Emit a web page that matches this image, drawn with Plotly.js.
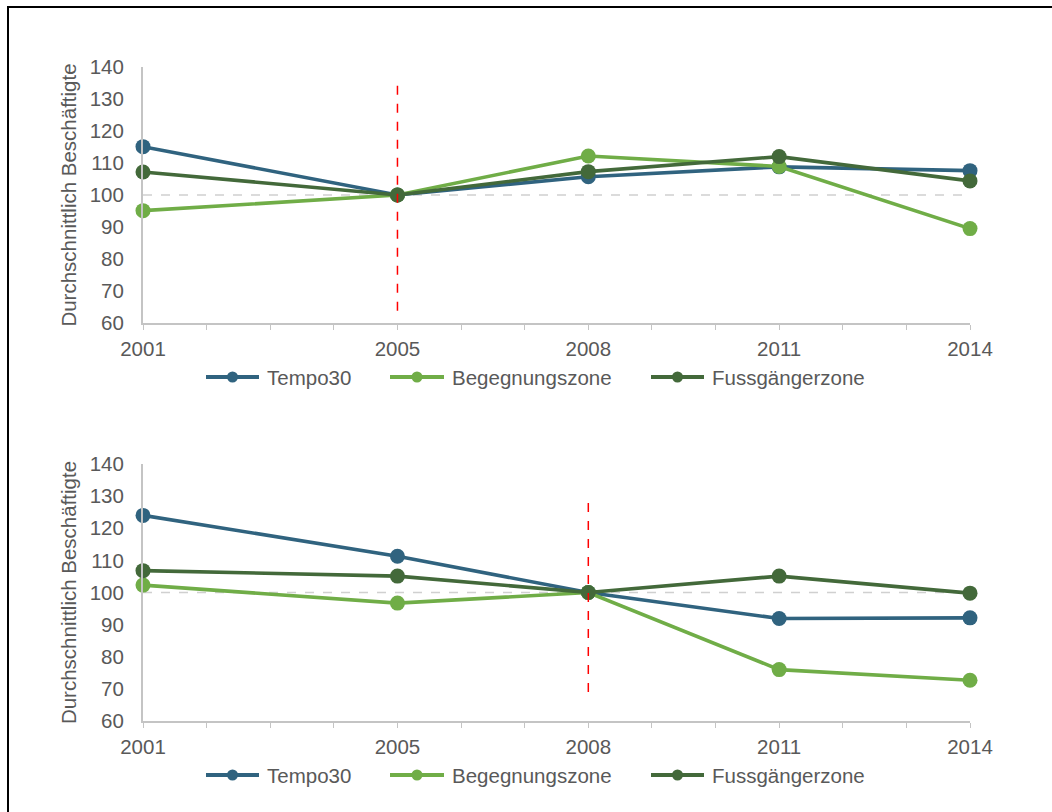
<!DOCTYPE html>
<html>
<head>
<meta charset="utf-8">
<script src="https://cdn.plot.ly/plotly-3.0.1.min.js"></script>
<style>
  html, body { margin: 0; padding: 0; background: #fff; }
  #frame { position: absolute; left: 7px; top: 6px; width: 1045px; height: 806px;
           border-top: 2px solid #000; border-left: 2px solid #000; box-sizing: border-box; pointer-events: none; z-index: 5; }
  #chart { width: 1052px; height: 812px; }
</style>
</head>
<body>
<div id="frame"></div>
<div id="chart"></div>
<script>
// ---- data ----
const years = [2001, 2005, 2008, 2011, 2014];
const seriesNames = ["Tempo30", "Begegnungszone", "Fussgängerzone"];

// top panel (index 2005 = 100)
const topTempo30 = [115.1, 100, 105.7, 108.8, 107.6];
const topBegegnung = [95.1, 100, 112.2, 108.9, 89.5];
const topFussgaenger = [107.2, 100, 107.3, 112.0, 104.4];

// bottom panel (index 2008 = 100)
const botTempo30 = [124.0, 111.3, 100, 91.9, 92.1];
const botBegegnung = [102.3, 96.7, 100, 76.0, 72.7];
const botFussgaenger = [106.8, 105.1, 100, 105.1, 99.8];

// reference lines
const baseLineX = [2001, 2014];
const baseLineY = [100, 100];
const topRefX = [2005, 2005];
const topRefY = [63.8, 134.2];
const botRefX = [2008, 2008];
const botRefY = [69.0, 128.8];

const yTicks = [60, 70, 80, 90, 100, 110, 120, 130, 140];
const xTickVals = [2001, 2005, 2008, 2011, 2014];
const xTickText = ["2001", "2005", "2008", "2011", "2014"];
const yTitle = "Durchschnittlich Beschäftigte";

// ---- style ----
const colors = ["#30637F", "#70AD47", "#43693A"];
const font = "Liberation Sans, Arial, sans-serif";
const txt = "#595959";
const axisCol = "#C4C4C4";
const FS = 20.5;

function series(x, y, i, xa, ya) {
  return {
    x: x, y: y, name: seriesNames[i], type: "scatter", mode: "lines+markers",
    xaxis: xa, yaxis: ya, showlegend: false, cliponaxis: false,
    line: { color: colors[i], width: 3.6 },
    marker: { color: colors[i], size: 15 },
    hoverinfo: "x+y+name"
  };
}
function refLine(x, y, color, dash, xa, ya, w) {
  return { x: x, y: y, type: "scatter", mode: "lines", xaxis: xa, yaxis: ya, cliponaxis: false,
    line: { color: color, dash: dash, width: w }, showlegend: false, hoverinfo: "skip" };
}

const traces = [
  refLine(baseLineX, baseLineY, "#D0D0D0", "dash", "x", "y", 1.3),
  refLine(baseLineX, baseLineY, "#D0D0D0", "dash", "x2", "y2", 1.3),
  series(years, topTempo30, 0, "x", "y"),
  series(years, topBegegnung, 1, "x", "y"),
  series(years, topFussgaenger, 2, "x", "y"),
  series(years, botTempo30, 0, "x2", "y2"),
  series(years, botBegegnung, 1, "x2", "y2"),
  series(years, botFussgaenger, 2, "x2", "y2"),
  refLine(topRefX, topRefY, "#FF0000", "dash", "x", "y", 1.5),
  refLine(botRefX, botRefY, "#FF0000", "dash", "x2", "y2", 1.5)
];

function xAxis(anchor) {
  return {
    anchor: anchor, domain: [0, 1], range: [2001, 2014], showgrid: false, zeroline: false,
    showline: true, linecolor: axisCol, linewidth: 2,
    tickmode: "array", tickvals: xTickVals, ticktext: xTickText,
    ticks: "outside", ticklen: 5, tickcolor: axisCol, tickwidth: 1.2,
    minor: { tickmode: "linear", tick0: 2001, dtick: 1, ticks: "outside", ticklen: 5, tickcolor: axisCol, tickwidth: 1.2, showgrid: false },
    tickfont: { family: font, size: FS, color: txt },
    ticklabelstandoff: 1, fixedrange: true
  };
}
function yAxis(anchor, domain) {
  return {
    anchor: anchor, domain: domain, range: [60, 140], showgrid: false, zeroline: false,
    showline: true, linecolor: axisCol, linewidth: 2,
    tickmode: "array", tickvals: yTicks, ticks: "",
    tickfont: { family: font, size: FS, color: txt },
    ticklabelstandoff: 13,
    title: { text: yTitle, font: { family: font, size: FS, color: txt }, standoff: 8 },
    fixedrange: true
  };
}

// ---- custom legends (line + marker + label), positions in plot-area pixels ----
const plotL = 143, plotW = 827, plotBottom = 721, plotH = 654;
const legendRows = [377, 775];             // pixel y of the two legends
const legendItems = [                       // [line start, line end, text start] in pixels
  [206, 259, 265], [390, 444, 450], [651, 704, 710]
];
const px = v => (v - plotL) / plotW;
const py = v => (plotBottom - v) / plotH;

const shapes = [], annotations = [];
legendRows.forEach(row => {
  legendItems.forEach((it, i) => {
    shapes.push({ type: "line", xref: "paper", yref: "paper", x0: px(it[0]), x1: px(it[1]), y0: py(row), y1: py(row),
      line: { color: colors[i], width: 4 } });
    shapes.push({ type: "circle", xref: "paper", yref: "paper", xsizemode: "pixel", ysizemode: "pixel",
      xanchor: px((it[0] + it[1]) / 2), yanchor: py(row), x0: -5.5, x1: 5.5, y0: -5.5, y1: 5.5,
      fillcolor: colors[i], line: { color: colors[i], width: 0 } });
    annotations.push({ xref: "paper", yref: "paper", x: px(it[2]), y: py(row), xanchor: "left", yanchor: "middle",
      text: seriesNames[i], showarrow: false, font: { family: font, size: FS, color: txt } });
  });
});

const layout = {
  width: 1052, height: 812,
  margin: { l: 143, r: 82, t: 67, b: 91 },
  paper_bgcolor: "#fff", plot_bgcolor: "#fff",
  font: { family: font, color: txt },
  showlegend: false,
  xaxis: xAxis("y"),
  xaxis2: xAxis("y2"),
  yaxis: yAxis("x", [0.6086, 1]),
  yaxis2: yAxis("x2", [0, 0.393]),
  shapes: shapes,
  annotations: annotations
};

Plotly.newPlot("chart", traces, layout, { displayModeBar: false });
</script>
</body>
</html>
